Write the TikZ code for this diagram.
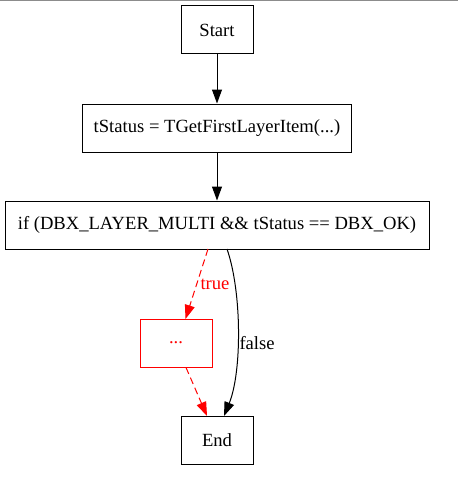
\documentclass[tikz,border=0pt]{standalone}
\usepackage{fontspec}
\setmainfont{Liberation Serif}
\usetikzlibrary{arrows.meta}
\begin{document}
\begin{tikzpicture}[x=1pt,y=-1pt,
  box/.style={draw,line width=1pt,minimum height=48pt,inner sep=0pt,font=\fontsize{18.6}{21}\selectfont},
  redbox/.style={box,draw=red,text=red,line width=0.9pt},
  edge/.style={line width=1pt,-{Triangle[length=14pt,width=10pt]}},
  rededge/.style={edge,red,dashed,dash pattern=on 7pt off 4pt},
  lbl/.style={font=\fontsize{18.6}{21}\selectfont}]
\useasboundingbox (0,0) rectangle (458,495);
\fill[gray!90] (0,0) rectangle (458,1.5);
\node[box,minimum width=72pt] (start) at (217,30) {Start};
\node[box,minimum width=269pt] (get) at (217,128) {tStatus = TGetFirstLayerItem(...)};
\node[box,minimum width=424pt] (if) at (217,225) {if (DBX\_LAYER\_MULTI \&\& tStatus == DBX\_OK)};
\node[redbox,minimum width=72pt] (dots) at (176,343) {...};
\node[box,minimum width=72pt] (end) at (217,440) {End};
\coordinate (ifa) at (208,249);
\coordinate (ifb) at (227,249);
\coordinate (dta) at (186,367.5);
\coordinate (dtin) at (185.5,319);
\coordinate (ena) at (207,416);
\coordinate (enb) at (224,416);
\draw[edge] (start) -- (get);
\draw[edge] (get) -- (if);
\draw[rededge] (ifa) -- (dtin);
\node[lbl,text=red,anchor=west] (tlabel) at (197,284) {true};
\draw[edge] (ifb) .. controls (242,292) and (242,372) .. (enb);
\node[lbl,anchor=west] (flabel) at (236,343) {false};
\draw[rededge] (dta) -- (ena);
\end{tikzpicture}
\end{document}
